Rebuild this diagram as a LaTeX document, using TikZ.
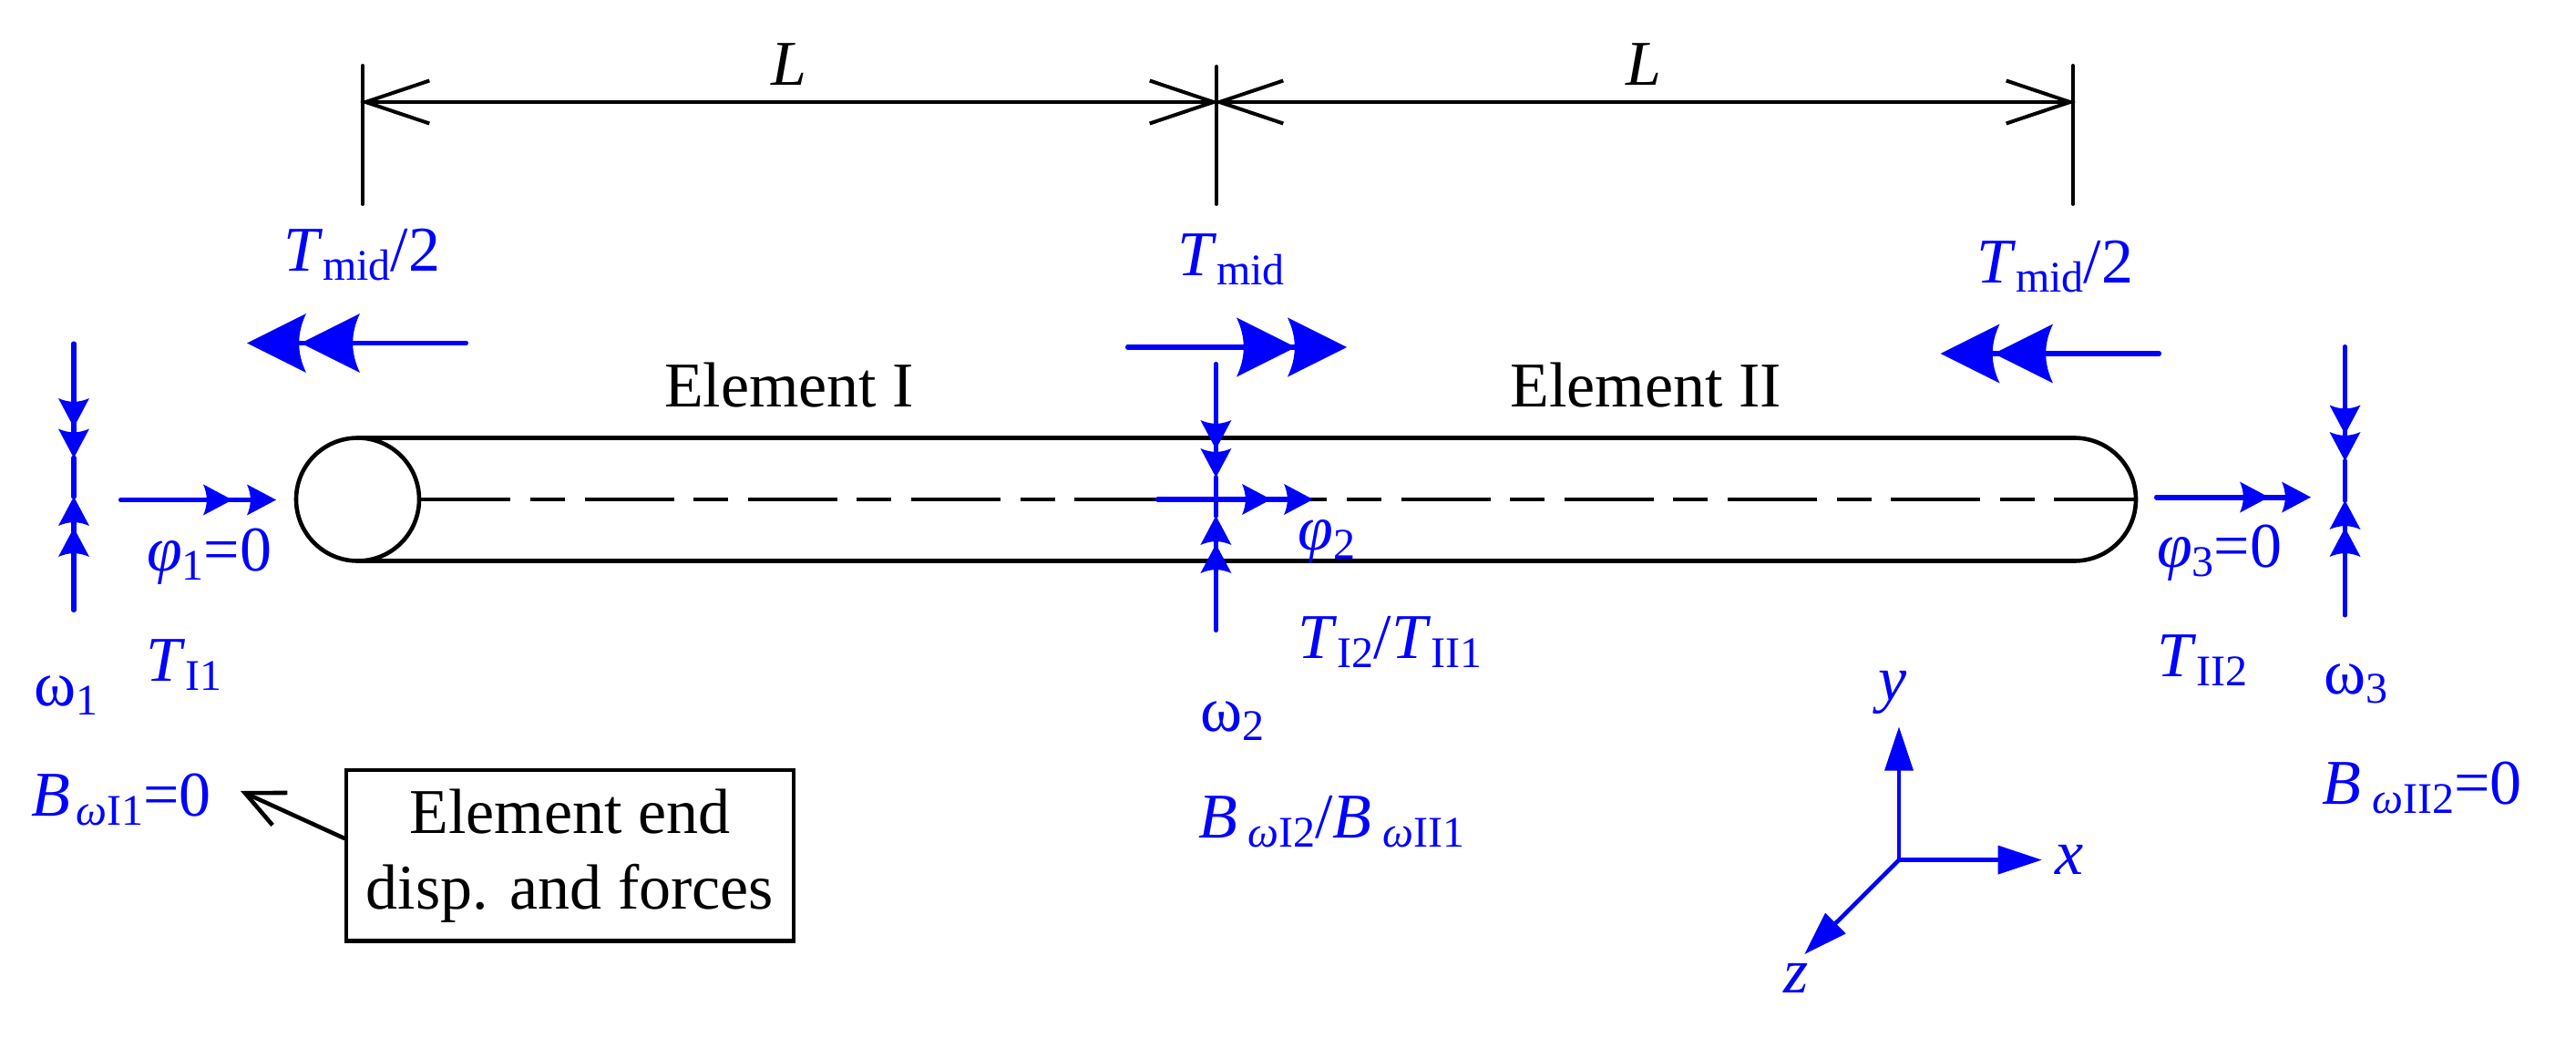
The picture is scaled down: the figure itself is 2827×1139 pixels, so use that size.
\documentclass[tikz,border=0pt]{standalone}
\usepackage{fontspec}
\setmainfont{Liberation Serif}
\usetikzlibrary{arrows.meta}
\newcommand{\sbs}[1]{\raisebox{-5pt}{\fontsize{24}{24}\selectfont #1}}
\newcommand{\dblarrow}[4]{\draw[#1] (#2) -- (#3); \draw[#1] (#2) -- (#4);}
\pgfdeclarearrow{
  name=BarbHead,
  parameters={\the\pgfarrowlength,\the\pgfarrowwidth},
  setup code={
    \pgfarrowssettipend{\pgfarrowlength}
    \pgfarrowssetlineend{.2\pgfarrowlength}
    \pgfarrowssetbackend{0pt}
    \pgfarrowssetvisualbackend{.11\pgfarrowlength}
    \pgfarrowssavethe\pgfarrowlength
    \pgfarrowssavethe\pgfarrowwidth
  },
  drawing code={
    \pgfpathmoveto{\pgfqpoint{\pgfarrowlength}{0pt}}
    \pgfpathlineto{\pgfqpoint{0pt}{.5\pgfarrowwidth}}
    \pgfpathcurveto{\pgfqpoint{.08\pgfarrowlength}{.33\pgfarrowwidth}}{\pgfqpoint{.12\pgfarrowlength}{.17\pgfarrowwidth}}{\pgfqpoint{.12\pgfarrowlength}{0pt}}
    \pgfpathcurveto{\pgfqpoint{.12\pgfarrowlength}{-.17\pgfarrowwidth}}{\pgfqpoint{.08\pgfarrowlength}{-.33\pgfarrowwidth}}{\pgfqpoint{0pt}{-.5\pgfarrowwidth}}
    \pgfpathclose
    \pgfusepathqfill
  },
  defaults={length=16pt,width=17pt}
}
\definecolor{bluec}{RGB}{0,0,255}
\tikzset{
  blk/.style={draw=black,line width=2.3pt,line cap=round},
  blu/.style={draw=bluec,line width=2.9pt,line cap=round},
  smallhd/.style={blu,-{BarbHead[length=16pt,width=17pt]}},
  bighd/.style={blu,-{BarbHead[length=32.5pt,width=32.5pt]}},
  axishd/.style={blu,line width=2.3pt,-{Triangle[length=24pt,width=16pt,line width=0pt]}},
  dimline/.style={blk,line width=2pt,shorten <=-1.5pt,shorten >=-1.5pt,{Straight Barb[length=35pt,width=23.5pt]}-{Straight Barb[length=35pt,width=23.5pt]}},
  lab/.style={anchor=base west,inner sep=0pt,outer sep=0pt,font=\fontsize{35}{35}\selectfont},
  blab/.style={lab,text=bluec},
  boxed/.style={blk,align=center,inner sep=0pt,minimum width=245.5pt,minimum height=93.8pt,font=\fontsize{35}{41.5}\selectfont},
}
\begin{document}
\begin{tikzpicture}[x=0.5pt,y=-0.5pt]
\useasboundingbox (0,0) rectangle (2827,1139);
% dimension lines
\coordinate (dA) at (398,112); \coordinate (dB) at (1335,112); \coordinate (dC) at (2275,112);
\draw[blk,line width=2pt] (398,72) coordinate (a1) -- (398,224) coordinate (a2);
\draw[blk,line width=2pt] (1335,73) coordinate (b1) -- (1335,224) coordinate (b2);
\draw[blk,line width=2pt] (2275,72) coordinate (c1) -- (2275,224) coordinate (c2);
\draw[dimline] (dA) -- (dB);
\draw[dimline] (dB) -- (dC);
\node[lab] (L1) at (846,94) {\textit{L}};
\node[lab] (L2) at (1784,94) {\textit{L}};
% tube
\node[lab] (E1) at (729,446.4) {Element I};
\node[lab] (E2) at (1657.6,446.4) {Element II};
\draw[blk] (392.5,480.5) -- (2276.5,480.5) arc[start angle=90,end angle=-90,radius=33.75pt] -- (392.5,615.5);
\node[blk,draw,circle,fill=white,inner sep=0pt,minimum size=67.5pt] (endc) at (392.5,548) {};
\coordinate (capr) at (2343.5,548);
\draw[blk,line cap=butt,dash pattern=on 49pt off 10.8pt on 19pt off 10.8pt] (endc.east) -- (capr);
% left supports
\coordinate (w1t) at (81,377.5); \coordinate (w1ta) at (81,469); \coordinate (w1tb) at (81,502.5);
\coordinate (w1b) at (81,669); \coordinate (w1ba) at (81,579); \coordinate (w1bb) at (81,545);
\dblarrow{smallhd}{w1t}{w1ta}{w1tb}
\dblarrow{smallhd}{w1b}{w1ba}{w1bb}
\draw[blu] (w1tb) -- (w1bb);
\coordinate (p1t) at (133,548.5); \coordinate (p1a) at (255,548.5); \coordinate (p1b) at (303,548.5);
\dblarrow{smallhd}{p1t}{p1a}{p1b}
% big arrows
\coordinate (f1t) at (511,376.5); \coordinate (f1a) at (330,376.5); \coordinate (f1b) at (271,376.5);
\dblarrow{bighd}{f1t}{f1a}{f1b}
\coordinate (f2t) at (1238,381); \coordinate (f2a) at (1422,381); \coordinate (f2b) at (1478,381);
\dblarrow{bighd}{f2t}{f2a}{f2b}
\coordinate (f3t) at (2369,388); \coordinate (f3a) at (2188,388); \coordinate (f3b) at (2129.5,388);
\dblarrow{bighd}{f3t}{f3a}{f3b}
% mid
\coordinate (w2t) at (1334.4,400); \coordinate (w2ta) at (1334.4,493); \coordinate (w2tb) at (1334.4,524);
\coordinate (w2b) at (1334.4,691); \coordinate (w2ba) at (1334.4,597); \coordinate (w2bb) at (1334.4,566);
\dblarrow{smallhd}{w2t}{w2ta}{w2tb}
\dblarrow{smallhd}{w2b}{w2ba}{w2bb}
\draw[blu] (w2tb) -- (w2bb);
\coordinate (p2t) at (1271,548); \coordinate (p2a) at (1395,548); \coordinate (p2b) at (1441,548);
\dblarrow{smallhd}{p2t}{p2a}{p2b}
% right
\coordinate (p3t) at (2367,545.6); \coordinate (p3a) at (2490,545.6); \coordinate (p3b) at (2536,545.6);
\dblarrow{smallhd}{p3t}{p3a}{p3b}
\coordinate (w3t) at (2573.5,381); \coordinate (w3ta) at (2573.5,476.5); \coordinate (w3tb) at (2573.5,506);
\coordinate (w3b) at (2573.5,674.5); \coordinate (w3ba) at (2573.5,579); \coordinate (w3bb) at (2573.5,549);
\dblarrow{smallhd}{w3t}{w3ta}{w3tb}
\dblarrow{smallhd}{w3b}{w3ba}{w3bb}
\draw[blu] (w3tb) -- (w3bb);
% axes
\coordinate (O) at (2084,943.6);
\coordinate (Oy) at (2084,797.6); \coordinate (Ox) at (2240.6,943.6); \coordinate (Oz) at (1980.4,1047);
\draw[axishd] (O) -- (Oy);
\draw[axishd] (O) -- (Ox);
\draw[axishd] (O) -- (Oz);
\node[blab] (ly) at (2061,768) {\textit{y}};
\node[blab] (lx) at (2255,959) {\textit{x}};
\node[blab] (lz) at (1957,1089) {\textit{z}};
% blue labels
\node[blab] (tm1) at (311,298) {\textit{T}\sbs{mid}/2};
\node[blab] (tm2) at (1292,303) {\textit{T}\sbs{mid}};
\node[blab] (tm3) at (2169,311) {\textit{T}\sbs{mid}/2};
\node[blab] (ph1) at (161,626.5) {\textit{φ}\sbs{1}=0};
\node[blab] (ph2) at (1424.5,603) {\textit{φ}\sbs{2}};
\node[blab] (ph3) at (2367,622.6) {\textit{φ}\sbs{3}=0};
\node[blab] (ti1) at (160,747.5) {\textit{T}\sbs{I1}};
\node[blab] (ti2) at (1424.5,722.6) {\textit{T}\sbs{I2}/\textit{T}\sbs{II1}};
\node[blab] (ti3) at (2367,742.5) {\textit{T}\sbs{II2}};
\node[blab] (om1) at (37,774.5) {ω\sbs{1}};
\node[blab] (om2) at (1317.4,802) {ω\sbs{2}};
\node[blab] (om3) at (2550.5,761) {ω\sbs{3}};
\node[blab] (bw1) at (34.4,895) {\textit{B}\kern3pt\sbs{\textit{ω}I1}=0};
\node[blab] (bw2) at (1315,919.6) {\textit{B}\,\sbs{\textit{ω}I2}/\textit{B}\,\sbs{\textit{ω}II1}};
\node[blab] (bw3) at (2548.7,882) {\textit{B}\,\sbs{\textit{ω}II2}=0};
% box
\node[boxed,draw] (box) at (625.5,938.8) {Element end\\disp. and forces};
\coordinate (boxout) at ([yshift=9.5pt]box.west);
\coordinate (boxtip) at (264,868);
\draw[blk,-{Straight Barb[length=21pt,width=19.5pt]}] (boxout) -- (boxtip);
\end{tikzpicture}
\end{document}
